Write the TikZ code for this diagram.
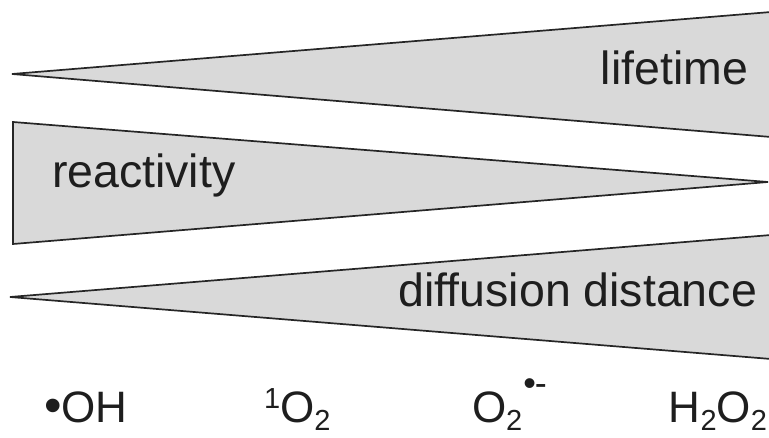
\documentclass[tikz,border=0pt]{standalone}
\usepackage{fontspec}
\setmainfont{Liberation Sans}
\definecolor{wedgefill}{HTML}{D9D9D9}
\definecolor{wedgeline}{HTML}{262626}
\definecolor{txt}{HTML}{1E1E1E}
\tikzset{
  wedge/.style={fill=wedgefill, draw=wedgeline, line width=1.7pt, line join=miter},
  lbl/.style={inner sep=0pt, outer sep=0pt, text=txt, font=\fontsize{46.5}{50}\selectfont},
  spc/.style={inner sep=0pt, outer sep=0pt, text=txt, font=\fontsize{44}{48}\selectfont},
}
\newcommand{\subtwo}{\raisebox{-0.16em}{\fontsize{29}{30}\selectfont 2}}
\begin{document}
\begin{tikzpicture}[x=1pt,y=-1pt]
\useasboundingbox (0,0) rectangle (769,438);
% wedges
\draw[wedge] (12,74) -- (771,12) -- (771,137) -- cycle;
\draw[wedge] (13,122) -- (768,182) -- (13,244) -- cycle;
\draw[wedge] (10,297) -- (771,235) -- (771,359) -- cycle;
% labels
\node[lbl, anchor=base east] (life) at (748,85) {lifetime};
\node[lbl, anchor=base west] (react) at (52,188) {reactivity};
\node[lbl, anchor=base east] (diff) at (757,307) {diffusion distance};
% species
\node[spc, anchor=base west] (oh) at (44,423) {{\fontsize{50}{50}\selectfont •}OH};
\node[spc, anchor=base west] (singlet) at (264,423) {\raisebox{0.33em}{\fontsize{29}{30}\selectfont 1}O\subtwo};
\node[spc, anchor=base west] (super) at (472,423) {O\subtwo\hspace{1pt}\raisebox{0.62em}{\fontsize{36}{30}\selectfont •\hspace{-1pt}-}};
\node[spc, anchor=base east] (hpo) at (767,423) {H\subtwo O\subtwo};
\end{tikzpicture}
\end{document}
